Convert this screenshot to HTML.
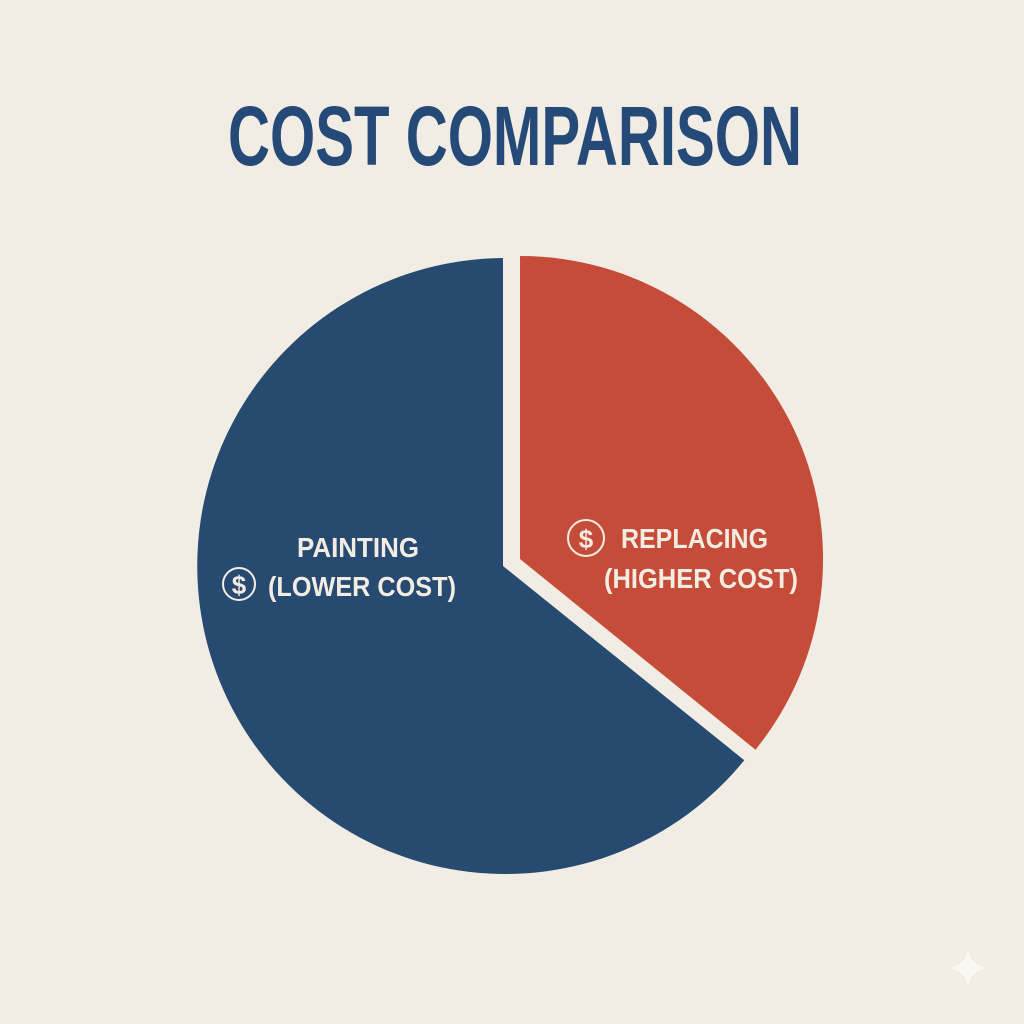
<!DOCTYPE html>
<html><head><style>
html,body{margin:0;padding:0;background:#f2ede4;}
svg{display:block}
</style></head><body>
<svg width="1024" height="1024" viewBox="0 0 1024 1024" xmlns="http://www.w3.org/2000/svg">
<rect width="1024" height="1024" fill="#f2ede4"/>
<text x="515" y="165" text-anchor="middle" font-family="Liberation Sans Narrow, Liberation Sans, sans-serif" font-weight="bold" font-size="84" fill="#264a78" textLength="574" lengthAdjust="spacingAndGlyphs">COST COMPARISON</text>
<!-- blue wedge: from 39deg clockwise to -90deg (270) -->
<path d="M503,566 L744.3,760.2 A308,308 0 1 1 503,258 Z" fill="#264a70"/>
<!-- red wedge -->
<path d="M520,559 L520,256 A303,303 0 0 1 755.5,749.7 Z" fill="#c64c3a"/>
<g font-family="Liberation Sans Narrow, Liberation Sans, sans-serif" font-weight="bold" fill="#f3ece2">
<text x="358" y="557" text-anchor="middle" font-size="28" textLength="122" lengthAdjust="spacingAndGlyphs">PAINTING</text>
<text x="268" y="596" font-size="28" textLength="188" lengthAdjust="spacingAndGlyphs">(LOWER COST)</text>
<circle cx="239" cy="584" r="16" fill="none" stroke="#f3ece2" stroke-width="2"/>
<text x="239" y="594" text-anchor="middle" font-size="26">$</text>
<text x="621" y="548" font-size="28" textLength="147" lengthAdjust="spacingAndGlyphs">REPLACING</text>
<text x="604" y="588" font-size="28" textLength="194" lengthAdjust="spacingAndGlyphs">(HIGHER COST)</text>
<circle cx="586" cy="538" r="18" fill="none" stroke="#f3ece2" stroke-width="2"/>
<text x="586" y="548" text-anchor="middle" font-size="26">$</text>
</g>
<path d="M968,948 Q970,966 988,968 Q970,970 968,988 Q966,970 948,968 Q966,966 968,948Z" fill="#fbf8f3"/>
</svg>
</body></html>
